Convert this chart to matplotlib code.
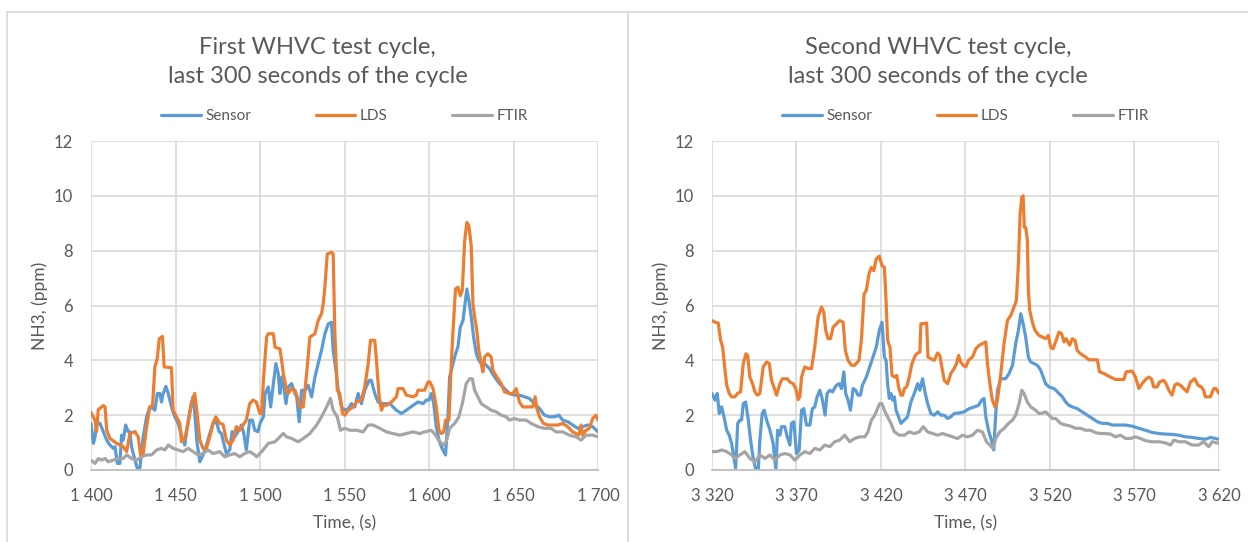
import matplotlib
matplotlib.use("Agg")
import matplotlib.pyplot as plt
from matplotlib.lines import Line2D
from matplotlib.ticker import FuncFormatter, FixedLocator

# ---------------- data: first WHVC cycle ----------------
t1_sensor = [1400, 1401.4, 1402.4, 1403.3, 1405.3, 1407.3, 1409.3, 1411.2, 1413.2, 1414.2, 1415.6, 1417.1,
             1418.1, 1419.1, 1420.5, 1422.0, 1423.0, 1424.0, 1426.0, 1427.4, 1428.9, 1430.9, 1432.9, 1434.8,
             1436.8, 1437.8, 1439.2, 1440.7, 1441.7, 1442.7, 1444.3, 1445.7, 1447.6, 1449.6, 1451.6, 1453.5,
             1455.5, 1457.5, 1459.4, 1460.4, 1461.4, 1462.8, 1464.4, 1466.3, 1468.3, 1470.3, 1472.2, 1474.2,
             1475.8, 1477.2, 1478.1, 1480.1, 1482.1, 1483.5, 1485.0, 1487.0, 1489.0, 1490.4, 1491.9, 1493.9,
             1495.5, 1496.9, 1498.8, 1500, 1502, 1503, 1504.9, 1506.3, 1507.9, 1509.4, 1510.8, 1511.8, 1512.8,
             1513.8, 1515.4, 1516.7, 1518.7, 1520.7, 1521.7, 1523.2, 1524.6, 1526.6, 1528.5, 1530.5, 1532.5,
             1534.4, 1536.4, 1538.4, 1540.4, 1542.3, 1543.3, 1544.9, 1546.3, 1548.2, 1550.2, 1552.2, 1554.1,
             1556.1, 1558.1, 1560.0, 1562.0, 1564.6, 1565.9, 1567.9, 1569.9, 1572.8, 1576.8, 1580.7, 1583.7,
             1586.6, 1590.6, 1593.5, 1596.5, 1598.4, 1600, 1601.4, 1602.8, 1604.3, 1605.9, 1607.3, 1608.7,
             1609.8, 1611.2, 1612.2, 1614.2, 1615.7, 1617.1, 1618.5, 1620.1, 1621.1, 1622.4, 1623.6, 1625.0,
             1626.4, 1628.0, 1629.5, 1630.9, 1632.9, 1635.8, 1638.8, 1641.7, 1644.7, 1647.6, 1650.6, 1653.5,
             1656.5, 1659.4, 1662.4, 1665.4, 1668.3, 1671.3, 1674.2, 1676.8, 1679.1, 1682.1, 1685.0, 1688.0,
             1690.9, 1693.9, 1696.9, 1700]
v1_sensor = [1.7, 0.97, 1.2, 1.7, 1.7, 1.4, 1.09, 0.91, 0.79, 0.85, 0.24, 0.24,
             1.27, 1.09, 1.64, 1.4, 1.4, 0.85, 0.36, 0.06, 0.06, 1.21, 1.94, 2.3,
             2.24, 2.18, 2.79, 2.79, 2.48, 2.79, 3.05, 2.79, 2.3, 1.94, 1.7, 1.27,
             0.91, 1.82, 2.42, 2.67, 2.06, 0.97, 0.3, 0.55, 0.91, 1.33, 1.7, 1.76,
             1.4, 1.33, 1.09, 0.6, 0.73, 1.4, 1.2, 1.4, 1.64, 1.33, 0.73, 1.82,
             1.82, 1.45, 1.4, 1.7, 1.94, 2.79, 3.03, 2.3, 3.15, 3.88, 3.52, 2.79, 3.39,
             3.15, 2.42, 3.03, 3.15, 2.79, 2.67, 1.76, 2.91, 2.91, 3.09, 2.67, 3.39,
             3.88, 4.36, 4.97, 5.33, 5.39, 4.36, 3.64, 2.91, 2.3, 2.18, 2.24, 2.42,
             2.3, 2.79, 2.42, 2.91, 3.27, 3.27, 2.79, 2.48, 2.42, 2.42, 2.18, 2.06,
             2.18, 2.36, 2.48, 2.42, 2.55, 2.55, 2.79, 2.42, 1.58, 1.09, 0.85, 0.67,
             0.55, 1.94, 3.39, 3.88, 4.24, 4.48, 5.21, 5.45, 5.94, 6.6, 6.18, 5.58,
             4.85, 4.24, 4.0, 3.88, 3.88, 3.7, 3.39, 3.15, 2.97, 2.79, 2.73, 2.73,
             2.67, 2.61, 2.42, 2.24, 2.0, 1.94, 1.94, 2.0, 1.82, 1.76, 1.64, 1.52,
             1.58, 1.64, 1.58, 1.39]

t1_lds = [1400, 1402.4, 1403.3, 1404.3, 1407.3, 1408.3, 1409.3, 1411.2, 1415.2, 1419.1, 1421.1, 1423.0,
          1426.0, 1428.0, 1429.3, 1430.9, 1432.9, 1434.8, 1436.4, 1437.8, 1439.2, 1440.4, 1442.3, 1443.3,
          1447.6, 1448.6, 1450.6, 1452.6, 1453.5, 1455.5, 1457.5, 1459.4, 1461.4, 1462.8, 1464.4, 1466.3,
          1468.3, 1470.3, 1472.2, 1473.8, 1476.2, 1478.1, 1480.1, 1482.1, 1484.1, 1486.0, 1488.0, 1490.0,
          1491.9, 1493.9, 1495.9, 1497.8, 1500, 1501, 1502, 1503.9, 1504.9, 1507.9, 1508.9, 1511.8, 1512.8,
          1513.8, 1515.7, 1516.7, 1518.7, 1520.7, 1522.6, 1523.6, 1525.6, 1527.6, 1529.5, 1532.5, 1534.4,
          1536.4, 1537.4, 1538.4, 1539.8, 1542.3, 1543.3, 1544.3, 1545.7, 1547.2, 1548.8, 1550.2, 1552.2,
          1555.1, 1557.1, 1560.0, 1562.0, 1564.0, 1565.4, 1567.9, 1568.9, 1570.5, 1571.9, 1573.2, 1574.8,
          1577.8, 1580.7, 1581.7, 1584.6, 1586.6, 1590.6, 1592.5, 1593.5, 1597.4, 1599.4, 1600.5, 1602.4,
          1604.3, 1605.9, 1607.3, 1608.7, 1609.8, 1611.8, 1613.2, 1614.2, 1615.7, 1617.1, 1618.5, 1619.7,
          1621.1, 1622.4, 1623.6, 1625.0, 1626.0, 1627.0, 1628.3, 1629.5, 1630.9, 1631.9, 1632.9, 1634.8,
          1636.8, 1637.8, 1640.2, 1642.7, 1644.7, 1647.6, 1649.6, 1651.6, 1653.5, 1655.5, 1658.5, 1661.4,
          1662.8, 1663.8, 1665.4, 1667.7, 1670.3, 1673.2, 1676.2, 1679.1, 1682.1, 1685.0, 1687.0, 1688.6,
          1690.0, 1690.9, 1692.9, 1694.9, 1696.9, 1698.8, 1700]
v1_lds = [2.1, 1.8, 1.4, 2.2, 2.35, 2.3, 1.45, 1.15, 0.97, 0.85, 0.67, 1.33,
          1.4, 1.2, 0.55, 0.6, 1.57, 2.3, 2.33, 3.76, 4.06, 4.79, 4.87, 3.76,
          3.73, 2.18, 1.94, 1.7, 1.03, 1.15, 1.7, 2.42, 2.79, 2.06, 1.09, 0.79,
          0.79, 1.21, 1.7, 1.94, 1.7, 1.67, 1.09, 0.91, 1.09, 1.58, 1.45, 1.64,
          1.82, 2.42, 2.55, 2.48, 2.06, 2.06, 3.27, 4.85, 4.97, 4.97, 4.48, 4.42, 4.0,
          3.52, 2.91, 2.79, 2.97, 2.91, 2.55, 2.3, 2.3, 3.52, 4.85, 4.97, 5.45,
          5.7, 6.06, 6.67, 7.88, 7.94, 7.88, 5.0, 2.91, 2.79, 2.06, 2.0, 2.18,
          2.3, 2.48, 2.55, 3.03, 3.88, 4.73, 4.73, 4.0, 2.67, 2.18, 2.36, 2.36,
          2.48, 2.67, 2.97, 2.97, 2.73, 2.67, 2.73, 2.91, 2.91, 3.21, 3.21, 2.97,
          2.3, 1.45, 1.33, 1.39, 1.82, 1.82, 3.88, 5.09, 6.6, 6.67, 6.36, 6.55,
          8.36, 9.03, 8.91, 8.18, 6.06, 5.58, 5.09, 4.36, 3.88, 3.58, 4.12, 4.24,
          4.12, 3.64, 3.39, 3.15, 2.85, 2.79, 2.79, 2.97, 2.48, 2.3, 2.3, 2.3,
          2.67, 2.24, 1.94, 1.7, 1.64, 1.64, 1.64, 1.7, 1.58, 1.39, 1.33, 1.27,
          1.64, 1.27, 1.45, 1.52, 1.88, 2.0, 1.82]

t1_ftir = [1400, 1402.4, 1404.3, 1406.3, 1408.3, 1410.2, 1413.2, 1416.1, 1419.1, 1421.1, 1424.0, 1427.0,
           1429.9, 1432.9, 1435.8, 1438.8, 1441.7, 1443.7, 1445.7, 1448.6, 1451.6, 1454.5, 1457.5, 1460.4,
           1463.4, 1466.3, 1469.3, 1472.2, 1476.2, 1479.1, 1482.1, 1485.0, 1488.0, 1490.9, 1493.9, 1496.9,
           1498, 1501, 1504.9, 1508.9, 1511.8, 1513.8, 1515.7, 1518.7, 1522.6, 1525.6, 1529.5, 1533.5,
           1536.4, 1539.4, 1541.7, 1543.3, 1545.7, 1547.6, 1550.2, 1553.1, 1557.1, 1561.0, 1564.0, 1566.9,
           1570.9, 1574.8, 1578.7, 1582.7, 1586.6, 1590.6, 1594.5, 1597.4, 1601.4, 1603.9, 1606.3, 1608.7,
           1610.2, 1612.2, 1615.2, 1617.7, 1619.7, 1622.0, 1624.0, 1625.6, 1627.0, 1628.9, 1630.9, 1633.9,
           1636.8, 1639.8, 1642.7, 1645.7, 1647.6, 1650.6, 1653.5, 1657.5, 1660.4, 1664.4, 1668.3, 1672.2,
           1675.2, 1679.1, 1683.1, 1687.0, 1690.0, 1692.9, 1696.9, 1700]
v1_ftir = [0.36, 0.24, 0.42, 0.36, 0.42, 0.3, 0.36, 0.42, 0.42, 0.55, 0.42, 0.36,
           0.48, 0.55, 0.55, 0.73, 0.79, 0.73, 0.91, 0.79, 0.73, 0.67, 0.79, 0.67,
           0.55, 0.6, 0.73, 0.6, 0.67, 0.48, 0.55, 0.6, 0.48, 0.6, 0.67, 0.55,
           0.48, 0.67, 0.97, 1.03, 1.21, 1.33, 1.21, 1.15, 1.03, 1.15, 1.33, 1.64,
           1.94, 2.3, 2.61, 2.18, 1.94, 1.45, 1.52, 1.45, 1.45, 1.39, 1.64, 1.64,
           1.52, 1.39, 1.33, 1.27, 1.33, 1.39, 1.33, 1.39, 1.45, 1.27, 1.03, 0.91,
           1.03, 1.52, 1.7, 1.94, 2.42, 3.15, 3.33, 3.33, 2.91, 2.67, 2.42, 2.3,
           2.18, 2.12, 2.0, 1.94, 1.82, 1.88, 1.82, 1.82, 1.7, 1.58, 1.52, 1.52,
           1.39, 1.39, 1.27, 1.21, 1.09, 1.27, 1.27, 1.21]

# ---------------- data: second WHVC cycle ----------------
t2_sensor = [3320, 3321.8, 3323.1, 3324.3, 3325.7, 3327.1, 3328.7, 3330.2, 3331.6, 3332.6, 3334.0, 3335.2,
             3336.5, 3337.5, 3338.5, 3339.9, 3341.5, 3342.8, 3344.4, 3346.0, 3347.4, 3348.3, 3349.7, 3350.9,
             3352.3, 3354.3, 3356.2, 3357.8, 3358.8, 3360.2, 3361.1, 3363.1, 3364.5, 3366.1, 3367.0, 3368.4,
             3370.0, 3371.6, 3373.0, 3374.3, 3375.9, 3377.9, 3379.4, 3380.8, 3382.2, 3383.8, 3385.4, 3386.9,
             3388.1, 3389.7, 3391.3, 3393.6, 3395.2, 3396.6, 3398.0, 3399.1, 3400.5, 3401.9, 3403.5, 3405.0,
             3406.4, 3407.8, 3409.0, 3411.3, 3413.3, 3415.3, 3417.2, 3419.0, 3420.6, 3422.0, 3423.0, 3423.9,
             3424.9, 3425.9, 3426.9, 3427.9, 3428.9, 3430.4, 3431.8, 3433.8, 3435.7, 3437.7, 3439.7, 3441.7,
             3443.0, 3444.6, 3446.2, 3447.6, 3449.5, 3451.5, 3453.5, 3455.4, 3457.4, 3459.4, 3461.3, 3463.3,
             3466.3, 3469.2, 3472.2, 3475.1, 3477.7, 3479.6, 3481.0, 3482.0, 3483.6, 3485.6, 3486.7, 3487.9,
             3488.9, 3490.9, 3493.8, 3495.8, 3497.8, 3499.7, 3501.3, 3502.7, 3504.1, 3505.6, 3507.2, 3508.6,
             3510.6, 3512.5, 3514.5, 3517.4, 3519.4, 3522.4, 3525.3, 3527.3, 3529.3, 3531.2, 3533.2, 3536.1,
             3539.1, 3542.0, 3545.0, 3548.0, 3550.9, 3553.9, 3556.8, 3560.7, 3564.7, 3568.6, 3572.6, 3576.5,
             3580.4, 3584.4, 3588.3, 3592.2, 3596.2, 3600.1, 3604.1, 3608.0, 3611.9, 3614.9, 3617.8, 3620]
v2_sensor = [2.79, 2.55, 2.79, 2.06, 2.3, 1.94, 1.45, 1.27, 0.97, 0.6, 0.06, 1.7,
             1.82, 1.82, 2.42, 2.48, 1.82, 1.09, 0.42, 0.0, 0.0, 1.09, 2.06, 2.18,
             1.82, 1.45, 0.97, 0.0, 1.45, 1.27, 1.58, 1.58, 1.21, 0.91, 1.7, 1.76,
             0.6, 0.73, 2.18, 2.24, 1.64, 1.64, 2.24, 2.3, 2.67, 2.91, 2.55, 2.0,
             2.79, 2.91, 2.85, 3.09, 3.15, 2.97, 3.58, 2.79, 2.55, 2.18, 2.97, 2.91,
             2.73, 2.73, 3.09, 3.39, 3.76, 4.12, 4.48, 5.09, 5.39, 4.12, 4.0, 3.15,
             2.61, 2.79, 2.55, 2.67, 2.18, 1.94, 1.7, 1.82, 1.94, 2.48, 2.79, 3.15,
             2.91, 3.33, 2.79, 2.42, 2.06, 2.0, 2.12, 2.0, 2.0, 1.88, 1.94, 2.06,
             2.08, 2.12, 2.24, 2.3, 2.36, 2.55, 2.61, 1.94, 1.45, 1.03, 0.73, 2.06,
             2.91, 3.33, 3.33, 3.52, 3.82, 4.61, 5.09, 5.7, 5.33, 4.85, 4.12, 3.94,
             3.88, 3.82, 3.64, 3.15, 3.03, 2.97, 2.79, 2.67, 2.48, 2.36, 2.3, 2.24,
             2.12, 2.0, 1.88, 1.76, 1.7, 1.7, 1.64, 1.64, 1.64, 1.6, 1.52, 1.45,
             1.37, 1.33, 1.31, 1.3, 1.27, 1.21, 1.19, 1.15, 1.12, 1.19, 1.15, 1.12]

t2_lds = [3320, 3321.8, 3323.7, 3325.1, 3326.3, 3327.7, 3328.7, 3330.2, 3331.6, 3333.6, 3335.0, 3336.9,
          3338.5, 3340.1, 3341.1, 3342.4, 3344.0, 3345.4, 3346.8, 3348.3, 3350.3, 3352.3, 3353.9, 3355.2,
          3356.6, 3358.2, 3360.2, 3361.7, 3364.5, 3366.1, 3368.0, 3369.6, 3371.0, 3372.0, 3373.0, 3374.9,
          3376.9, 3378.9, 3380.8, 3382.8, 3384.8, 3386.1, 3387.3, 3388.7, 3390.1, 3391.7, 3393.6, 3395.6,
          3397.6, 3398.9, 3400.5, 3402.5, 3404.4, 3407.0, 3408.4, 3410.0, 3411.3, 3412.9, 3414.3, 3415.7,
          3417.2, 3419.0, 3420.6, 3422.0, 3423.0, 3423.9, 3425.3, 3426.5, 3427.9, 3429.3, 3430.4, 3431.8,
          3432.8, 3433.8, 3435.2, 3436.7, 3438.3, 3440.3, 3441.7, 3443.0, 3443.6, 3447.0, 3447.8, 3449.5,
          3451.5, 3453.5, 3454.8, 3456.0, 3457.4, 3459.4, 3461.3, 3463.3, 3464.7, 3465.9, 3467.2, 3468.6,
          3470.2, 3471.8, 3474.1, 3476.1, 3478.1, 3480.0, 3482.0, 3483.0, 3484.4, 3485.9, 3487.5, 3488.9,
          3490.9, 3492.8, 3494.8, 3496.8, 3498.7, 3500.1, 3501.3, 3502.3, 3503.3, 3504.1, 3504.8, 3505.6,
          3506.6, 3507.2, 3508.0, 3509.6, 3511.1, 3513.5, 3515.5, 3517.4, 3519.0, 3520.4, 3521.8, 3523.3,
          3525.3, 3526.9, 3528.3, 3529.6, 3531.6, 3533.2, 3534.8, 3536.1, 3538.1, 3541.1, 3543.0, 3548.0,
          3549.3, 3551.9, 3553.9, 3555.8, 3558.8, 3563.7, 3565.1, 3568.6, 3570.6, 3572.6, 3574.5, 3576.5,
          3578.5, 3580.0, 3581.4, 3583.4, 3584.8, 3587.3, 3588.7, 3590.3, 3592.2, 3593.8, 3595.2, 3597.2,
          3599.1, 3601.1, 3603.1, 3605.6, 3607.6, 3609.6, 3610.9, 3611.9, 3614.9, 3616.9, 3618.2, 3620]
v2_lds = [5.45, 5.39, 5.36, 4.73, 4.48, 3.64, 3.09, 2.79, 2.67, 2.67, 2.79, 2.85,
          3.88, 4.24, 4.18, 3.39, 3.15, 2.85, 2.73, 2.79, 3.76, 3.94, 3.88, 3.27,
          3.03, 2.73, 3.15, 3.33, 3.33, 3.21, 3.15, 2.97, 2.57, 2.67, 3.39, 3.76,
          3.7, 3.7, 4.48, 5.58, 5.94, 5.76, 5.09, 4.79, 4.79, 5.21, 5.33, 5.45,
          5.39, 4.36, 4.0, 3.82, 3.82, 4.0, 4.73, 6.42, 6.55, 7.15, 7.39, 7.27,
          7.7, 7.8, 7.45, 7.39, 6.18, 4.73, 4.48, 3.45, 3.39, 3.45, 3.03, 2.73,
          2.73, 2.97, 3.03, 3.39, 3.88, 4.18, 4.27, 4.3, 5.33, 5.36, 4.12, 4.06,
          4.0, 4.27, 4.18, 3.76, 3.27, 3.15, 3.52, 3.7, 3.88, 4.18, 3.94, 3.82,
          3.76, 4.0, 4.12, 4.42, 4.55, 4.61, 4.67, 3.88, 3.15, 2.55, 2.3, 2.55,
          3.52, 4.61, 5.45, 5.64, 5.94, 6.18, 7.52, 9.33, 9.94, 10.0, 8.85, 8.85,
          8.42, 6.55, 5.82, 5.39, 5.09, 4.91, 4.85, 4.79, 4.91, 4.48, 4.42, 4.67,
          5.03, 4.97, 4.67, 4.79, 4.55, 4.79, 4.73, 4.36, 4.24, 4.12, 4.02, 4.02,
          3.58, 3.52, 3.45, 3.39, 3.3, 3.3, 3.58, 3.61, 3.39, 2.97, 3.15, 3.3,
          3.39, 3.33, 3.03, 3.03, 3.21, 3.27, 3.15, 2.91, 2.73, 3.09, 3.15, 3.09,
          2.97, 2.85, 3.21, 3.33, 3.09, 3.03, 2.91, 2.67, 2.67, 2.97, 2.97, 2.79]

t2_ftir = [3320, 3322.8, 3325.7, 3328.7, 3331.6, 3333.6, 3336.5, 3339.5, 3342.4, 3345.4, 3348.3, 3351.3,
           3354.3, 3357.2, 3360.2, 3363.1, 3366.1, 3369.0, 3372.0, 3374.9, 3377.9, 3380.8, 3383.8, 3386.7,
           3389.7, 3392.6, 3395.6, 3398.5, 3401.5, 3404.4, 3407.4, 3410.4, 3412.3, 3414.3, 3416.3, 3419.2,
           3420.6, 3422.0, 3423.9, 3425.9, 3427.9, 3430.8, 3433.8, 3436.7, 3439.7, 3442.6, 3445.0, 3447.6,
           3450.5, 3453.5, 3456.4, 3459.4, 3462.3, 3465.3, 3468.2, 3471.2, 3474.1, 3477.1, 3480.0, 3482.4,
           3484.4, 3486.3, 3487.9, 3490.3, 3492.8, 3495.4, 3497.8, 3499.7, 3501.7, 3503.3, 3504.6, 3506.6,
           3508.6, 3511.5, 3513.5, 3515.5, 3517.4, 3519.4, 3521.4, 3523.3, 3526.3, 3529.3, 3532.2, 3535.2,
           3538.1, 3541.1, 3544.0, 3547.0, 3549.9, 3552.9, 3555.8, 3558.8, 3561.7, 3564.7, 3567.6, 3570.6,
           3573.5, 3576.5, 3580.4, 3584.4, 3588.3, 3591.3, 3593.3, 3596.2, 3600.1, 3604.1, 3608.0, 3610.9,
           3613.9, 3615.9, 3620]
v2_ftir = [0.67, 0.67, 0.73, 0.67, 0.55, 0.42, 0.55, 0.67, 0.42, 0.3, 0.55, 0.42,
           0.55, 0.36, 0.55, 0.6, 0.55, 0.36, 0.55, 0.67, 0.6, 0.79, 0.73, 0.91,
           0.85, 1.03, 1.09, 1.27, 1.03, 1.15, 1.21, 1.21, 1.39, 1.82, 2.0, 2.42,
           2.42, 2.18, 1.94, 1.7, 1.39, 1.27, 1.27, 1.39, 1.33, 1.39, 1.58, 1.39,
           1.33, 1.27, 1.33, 1.27, 1.21, 1.15, 1.27, 1.21, 1.27, 1.45, 1.39, 1.03,
           0.91, 0.79, 1.15, 1.39, 1.52, 1.7, 1.82, 2.0, 2.42, 2.91, 2.79, 2.48,
           2.3, 2.18, 2.06, 2.08, 2.12, 2.0, 1.88, 1.88, 1.7, 1.64, 1.6, 1.52,
           1.52, 1.45, 1.45, 1.36, 1.33, 1.33, 1.31, 1.21, 1.27, 1.15, 1.15, 1.21,
           1.15, 1.07, 1.03, 1.03, 0.99, 0.91, 1.09, 1.03, 1.03, 0.91, 0.91, 1.03,
           0.85, 1.03, 0.97]

series_names = ["Sensor", "LDS", "FTIR"]
titles = ["First WHVC test cycle,\nlast 300 seconds of the cycle",
          "Second WHVC test cycle,\nlast 300 seconds of the cycle"]
x_label = "Time, (s)"
y_label = "NH3, (ppm)"
x_ticks_1 = [1400, 1450, 1500, 1550, 1600, 1650, 1700]
x_ticks_2 = [3320, 3370, 3420, 3470, 3520, 3570, 3620]
y_ticks = [0, 2, 4, 6, 8, 10, 12]

# ---------------- style ----------------
W, H = 1248, 542
colors = ["#5B9BD5", "#ED7D31", "#A5A5A5"]
text_col = "#595959"
grid_col = "#D9D9D9"
plt.rcParams["font.family"] = ["Lato", "DejaVu Sans"]

fig = plt.figure(figsize=(W / 100, H / 100), dpi=100)
fig.patch.set_facecolor("white")

# chart-area borders
for (x0, y0, x1, y1) in [(7, 12, 7, H), (7, 12, W, 12), (628, 12, 628, H)]:
    fig.add_artist(Line2D([x0 / W, x1 / W], [1 - y0 / H, 1 - y1 / H],
                          transform=fig.transFigure, color=grid_col, lw=1.2))

panels = [
    ([t1_sensor, t1_lds, t1_ftir], [v1_sensor, v1_lds, v1_ftir], x_ticks_1),
    ([t2_sensor, t2_lds, t2_ftir], [v2_sensor, v2_lds, v2_ftir], x_ticks_2),
]
ax_left = [91, 712]
title_cx = [317.5, 938]

for i, (ts, vs, xt) in enumerate(panels):
    ax = fig.add_axes([ax_left[i] / W, 72 / H, 507 / W, 329 / H])
    for t, v, c, name in zip(ts, vs, colors, series_names):
        ax.plot(t, v, color=c, lw=2.3, label=name, solid_joinstyle="round",
                solid_capstyle="round")
    ax.set_xlim(xt[0], xt[-1])
    ax.set_ylim(y_ticks[0], y_ticks[-1])
    ax.xaxis.set_major_locator(FixedLocator(xt))
    ax.yaxis.set_major_locator(FixedLocator(y_ticks))
    ax.xaxis.set_major_formatter(FuncFormatter(lambda v, p: f"{int(round(v)):,}".replace(",", " ")))
    ax.yaxis.set_major_formatter(FuncFormatter(lambda v, p: f"{int(round(v))}"))
    ax.grid(True, color=grid_col, lw=1.2)
    ax.set_axisbelow(True)
    for s in ["top", "right", "left"]:
        ax.spines[s].set_visible(False)
    ax.spines["bottom"].set_color("#BFBFBF")
    ax.spines["bottom"].set_linewidth(1.3)
    ax.tick_params(axis="both", length=0, labelsize=12, colors=text_col)
    ax.tick_params(axis="x", pad=13)
    ax.tick_params(axis="y", pad=13)
    ax.set_xlabel(x_label, fontsize=12.5, color=text_col, labelpad=8)
    ax.set_ylabel(y_label, fontsize=12.5, color=text_col, labelpad=4)
    leg = ax.legend(loc="center", bbox_to_anchor=(0.5, 1 + 25 / 329), ncol=3, frameon=False,
                    fontsize=11, handlelength=2.6, handletextpad=0.3, columnspacing=4.2,
                    borderaxespad=0)
    for txt in leg.get_texts():
        txt.set_color(text_col)
    fig.text(title_cx[i] / W, 1 - 62 / H, titles[i], ha="center", va="center",
             fontsize=17, color=text_col, linespacing=1.5)

fig.savefig("out.png", dpi=100, facecolor="white")
